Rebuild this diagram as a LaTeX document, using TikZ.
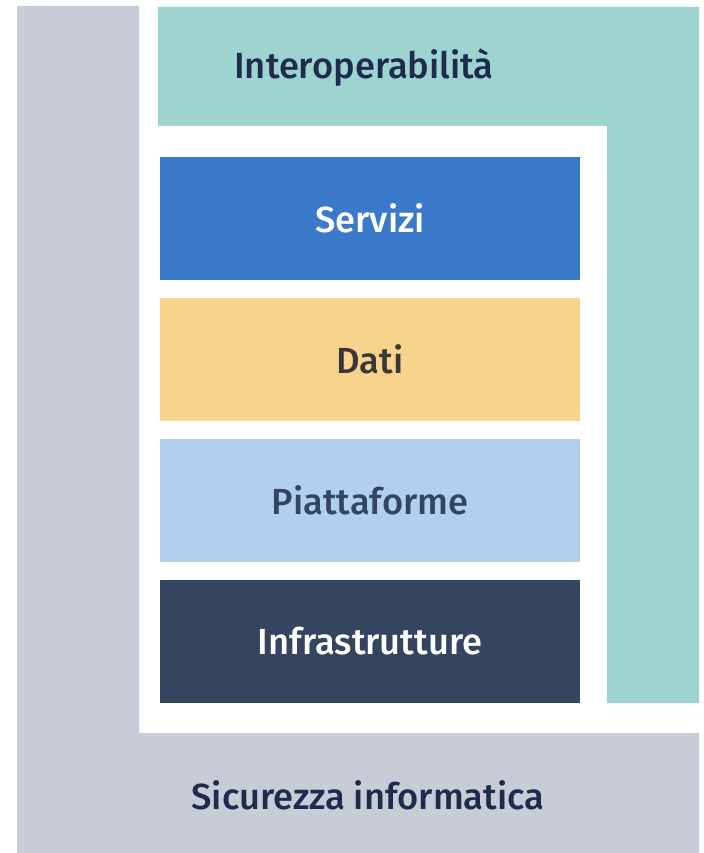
\documentclass[tikz,border=0pt]{standalone}
\usepackage{fontspec}
\setmainfont{Fira Sans}[UprightFont={* Medium}]
\usepackage{tikz}
\usetikzlibrary{positioning}
\definecolor{secgray}{HTML}{C7CCD6}
\definecolor{interteal}{HTML}{9DD4D0}
\definecolor{servblue}{HTML}{3B7ACB}
\definecolor{datiyel}{HTML}{F8D38C}
\definecolor{piatblue}{HTML}{B0D0EE}
\definecolor{infranavy}{HTML}{33455F}
\definecolor{inknavy}{HTML}{1F2B4C}
\tikzset{
  layer/.style ={draw=none, rectangle, minimum width=12.6cm, minimum height=3.69cm, inner sep=0pt, font=\fontsize{31}{34}\selectfont},
  band/.style  ={font=\fontsize{31}{34}\selectfont, text=inknavy, inner sep=0pt},
}

\begin{document}
\begin{tikzpicture}[x=0.03cm, y=-0.03cm]
  \useasboundingbox (0,0) rectangle (703,853);
  % security L and interoperability L
  \fill[secgray] (17,6) -- (139,6) -- (139,733) -- (699,733) -- (699,853) -- (17,853) -- cycle;
  \fill[interteal] (158,7) -- (699,7) -- (699,703) -- (607,703) -- (607,126) -- (158,126) -- cycle;
  \node[band] (inter) at (364,68) {Interoperabilità};
  \node[band] (sicur) at (368,795) {Sicurezza informatica};

  % stacked layers
  \node[layer, fill=servblue, text=white]        (serv)  at (370,218.5) {Servizi};
  \node[layer, fill=datiyel, text=black!78]      (dati)  at (370,359.5) {Dati};
  \node[layer, fill=piatblue, text=infranavy]    (piat)  at (370,500.5) {Piattaforme};
  \node[layer, fill=infranavy, text=white]       (infra) at (370,641)   {Infrastrutture};
\end{tikzpicture}
\end{document}
